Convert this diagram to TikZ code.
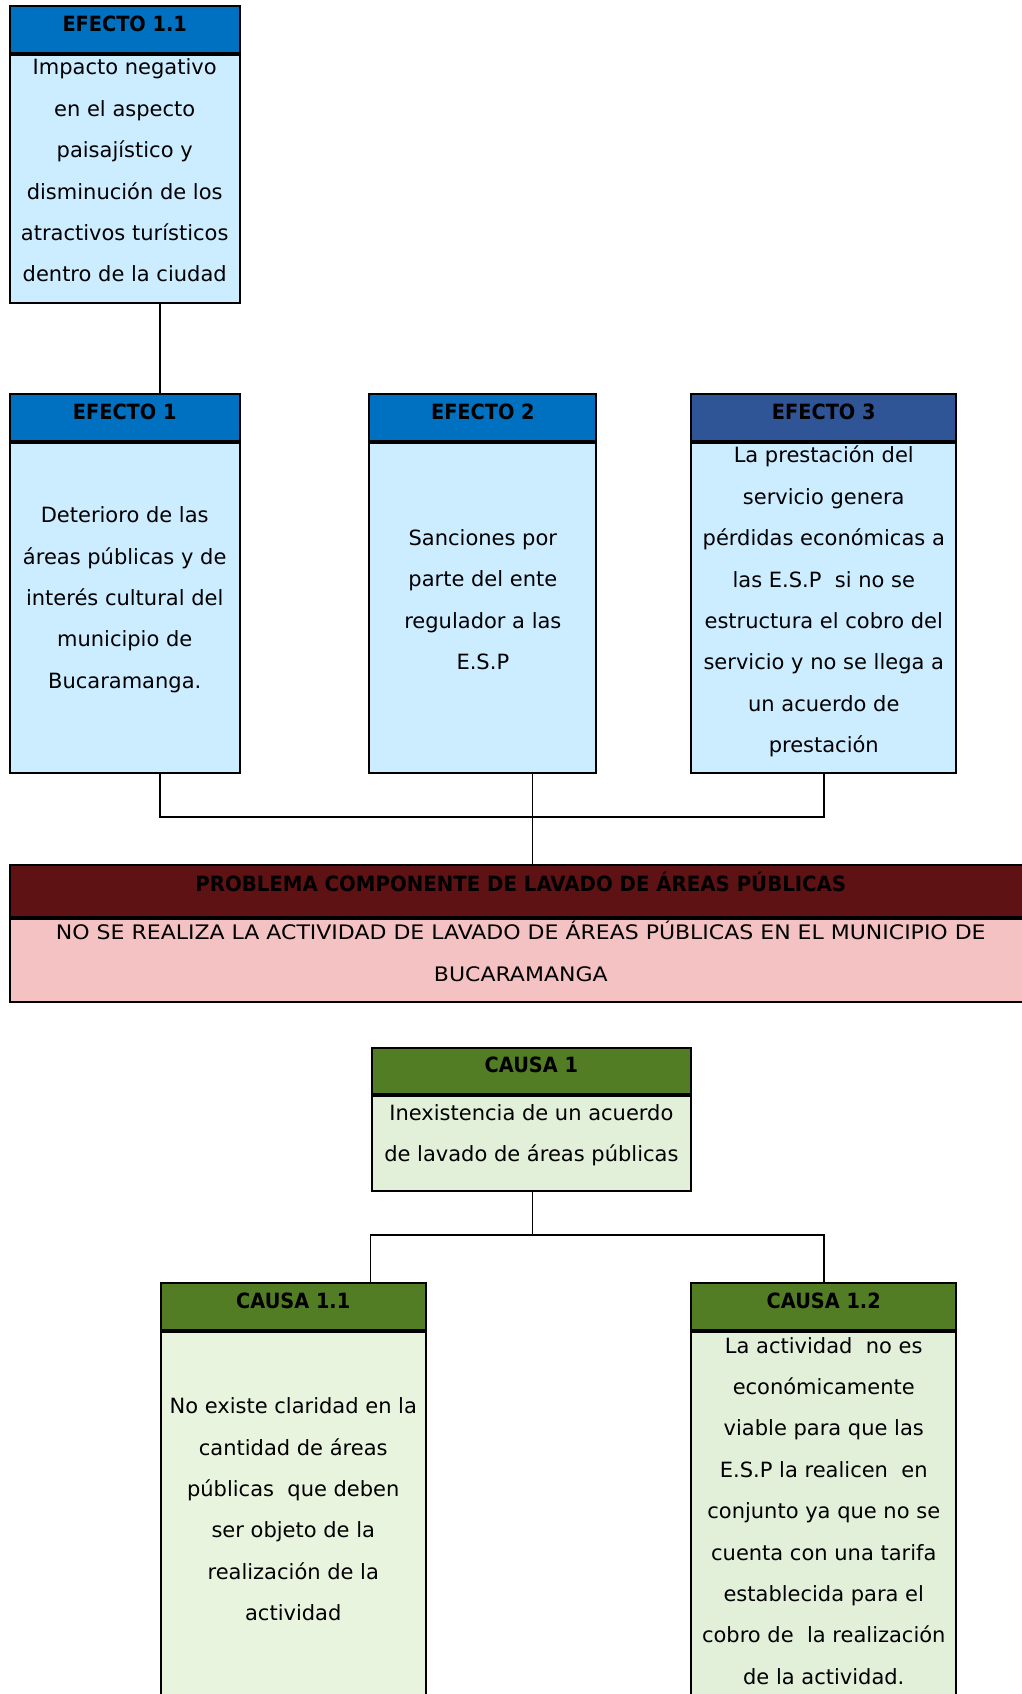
\documentclass[tikz,border=0pt]{standalone}
\usepackage{fontspec}
\setmainfont{DejaVu Sans}
\newfontfamily\hdrfont[FakeStretch=0.92]{DejaVu Sans}
\newfontfamily\probfont[FakeStretch=0.94]{DejaVu Sans}
\newfontfamily\probbody[FakeStretch=1.1]{DejaVu Sans}
\definecolor{hdrblue}{HTML}{0070C0}
\definecolor{hdrnavy}{HTML}{2F5597}
\definecolor{bodyblue}{HTML}{CCECFF}
\definecolor{probred}{HTML}{5E1214}
\definecolor{probpink}{HTML}{F4C2C3}
\definecolor{hdrgreen}{HTML}{527D24}
\definecolor{bodygreen}{HTML}{E2EFD9}
\definecolor{bodylime}{HTML}{E8F4DD}
\tikzset{
  hdr/.style={draw, line width=2pt, anchor=north west, inner sep=0pt, minimum height=46.5pt,
    font=\hdrfont\fontsize{21}{25}\selectfont\bfseries, text height=15.3pt, text depth=12pt},
  bod/.style={draw, line width=2pt, anchor=north west, inner sep=0pt},
  txt/.style={align=center, inner sep=0pt, font=\fontsize{21}{41.4}\selectfont},
  con/.style={line width=1.7pt}
}
\begin{document}
\begin{tikzpicture}[x=1pt,y=-1pt]
\useasboundingbox (0,0) rectangle (1021,1694);
% efectos
\node[hdr, fill=hdrblue, minimum width=230.2pt] (e11h) at (8.6,5.4) {EFECTO 1.1};
\node[bod, fill=bodyblue, minimum width=230.2pt, minimum height=248.5pt] (e11b) at (e11h.south west) {};
\node[txt] (e11t) at ([yshift=8.5pt]e11b.center) {Impacto negativo\\en el aspecto\\paisajístico y\\disminución de los\\atractivos turísticos\\dentro de la ciudad};
\node[hdr, fill=hdrblue, minimum width=230.2pt] (e1h) at (8.6,393.3) {EFECTO 1};
\node[bod, fill=bodyblue, minimum width=230.2pt, minimum height=330.6pt] (e1b) at (e1h.south west) {};
\node[txt] (e1t) at ([yshift=8.5pt]e1b.center) {Deterioro de las\\áreas públicas y de\\interés cultural del\\municipio de\\Bucaramanga.};
\node[hdr, fill=hdrblue, minimum width=226.9pt] (e2h) at (368.4,393.3) {EFECTO 2};
\node[bod, fill=bodyblue, minimum width=226.9pt, minimum height=330.6pt] (e2b) at (e2h.south west) {};
\node[txt] (e2t) at ([yshift=8.5pt]e2b.center) {Sanciones por\\parte del ente\\regulador a las\\E.S.P};
\node[hdr, fill=hdrnavy, minimum width=264.7pt] (e3h) at (690.4,393.3) {EFECTO 3};
\node[bod, fill=bodyblue, minimum width=264.7pt, minimum height=330.6pt] (e3b) at (e3h.south west) {};
\node[txt] (e3t) at ([yshift=6.5pt]e3b.center) {La prestación del\\servicio genera\\pérdidas económicas a\\las E.S.P\ \ si no se\\estructura el cobro del\\servicio y no se llega a\\un acuerdo de\\prestación};
% problema
\node[hdr, fill=probred, minimum width=1022.4pt, minimum height=51.9pt, text depth=15pt,
  font=\probfont\fontsize{21}{25}\selectfont\bfseries] (prh) at (8.6,864.3) {PROBLEMA COMPONENTE DE LAVADO DE ÁREAS PÚBLICAS};
\node[bod, fill=probpink, minimum width=1022.4pt, minimum height=83.2pt] (prb) at (prh.south west) {};
\node[txt, font=\probbody\fontsize{20}{41.4}\selectfont] (prt) at ([yshift=9.5pt]prb.center) {NO SE REALIZA LA ACTIVIDAD DE LAVADO DE ÁREAS PÚBLICAS EN EL MUNICIPIO DE\\BUCARAMANGA};
% causas
\node[hdr, fill=hdrgreen, minimum width=319.3pt] (c1h) at (370.7,1046.8) {CAUSA 1};
\node[bod, fill=bodygreen, minimum width=319.3pt, minimum height=94.2pt] (c1b) at (c1h.south west) {};
\node[txt] (c1t) at ([yshift=8.5pt]c1b.center) {Inexistencia de un acuerdo\\de lavado de áreas públicas};
\node[hdr, fill=hdrgreen, minimum width=265.5pt] (c11h) at (159.5,1282.4) {CAUSA 1.1};
\node[bod, fill=bodylime, minimum width=265.5pt, minimum height=372pt] (c11b) at (c11h.south west) {};
\node[txt] (c11t) at ([yshift=8.5pt]c11b.center) {No existe claridad en la\\cantidad de áreas\\públicas\ \ que deben\\ser objeto de la\\realización de la\\actividad};
\node[hdr, fill=hdrgreen, minimum width=264.7pt] (c12h) at (690.4,1282.4) {CAUSA 1.2};
\node[bod, fill=bodygreen, minimum width=264.7pt, minimum height=372pt] (c12b) at (c12h.south west) {};
\node[txt] (c12t) at ([yshift=7pt]c12b.center) {La actividad\ \ no es\\económicamente\\viable para que las\\E.S.P la realicen\ \ en\\conjunto ya que no se\\cuenta con una tarifa\\establecida para el\\cobro de\ \ la realización\\de la actividad.};
% conectores
\coordinate (jl) at (160,816.8);
\coordinate (jm) at (532.6,816.8);
\coordinate (jc) at (532.6,1234.9);
\coordinate (jcl) at (370.6,1234.9);
\draw[con] (e11b.south -| jl) -- (e1h.north -| jl);
\draw[con] (e1b.south -| jl) |- (jm) -| (e3b.south);
\draw[con] (e2b.south -| jm) -- (prh.north -| jm);
\draw[con] (c1b.south -| jc) -- (jc);
\draw[con] (c11h.north -| jcl) |- (jc) -| (c12h.north);
\end{tikzpicture}
\end{document}
